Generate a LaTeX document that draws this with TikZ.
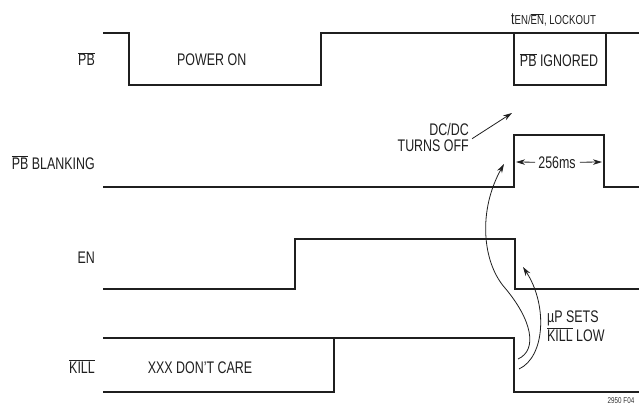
\documentclass[tikz,border=0pt]{standalone}
\usepackage{fontspec}
\setmainfont{Liberation Sans}[FakeStretch=0.74]
\usetikzlibrary{arrows.meta}
\newcommand{\ovl}[1]{$\overline{\mbox{#1}}$}
\tikzset{
  wave/.style={line width=1.6pt, line join=miter, black!88},
  lbl/.style={font=\fontsize{16.8}{15}\selectfont, inner sep=0pt, black!88},
  twoline/.style={lbl, font=\fontsize{16.8}{16.5}\selectfont},
  pointer/.style={line width=0.8pt, black!88, -{Stealth[length=9pt,width=5.5pt]}},
}

\begin{document}
\begin{tikzpicture}[x=1pt, y=-1pt]
    \useasboundingbox (0,0) rectangle (641,404);

    % signal names
    \node[lbl, anchor=base east] (pbName) at (95,66) {\ovl{PB}};
    \node[lbl, anchor=base east] (blankName) at (95,169) {\ovl{PB} BLANKING};
    \node[lbl, anchor=base east] (enName) at (95,263) {EN};
    \node[lbl, anchor=base east] (killName) at (95,373) {\ovl{KILL}};

    % waveforms
    \draw[wave] (103,33) -- (129,33) -- (129,85) -- (321,85) -- (321,33) -- (639,33);
    \draw[wave] (514,33) -- (514,85) -- (606,85) -- (606,33);
    \draw[wave] (103,187) -- (514,187) -- (514,135) -- (604,135) -- (604,187) -- (639,187);
    \draw[wave] (103,289) -- (295,289) -- (295,239) -- (515,239) -- (515,289) -- (639,289);
    \draw[wave] (103,338) -- (514,338) -- (514,392) -- (639,392);
    \draw[wave] (103,392) -- (334,392) -- (334,338);

    % texts on the waveforms
    \node[lbl, anchor=base west] (powerOn) at (177,66) {POWER ON};
    \node[lbl, anchor=base] (ignored) at (559,67) {\ovl{PB} IGNORED};
    \node[lbl, anchor=base west] (lockout) at (511,25)
        {t{\fontsize{13}{13}\selectfont EN/\ovl{EN}, LOCKOUT}};
    \node[lbl, anchor=base] (dontCare) at (200,373) {XXX DON'T CARE};
    \node[lbl, anchor=base] (ms) at (557,168) {256ms};
    \node[twoline, anchor=base east, align=right] (dcdc) at (469,152) {DC/DC\\TURNS OFF};
    \node[twoline, anchor=base west, align=left] (upSets) at (547,341) {µP SETS\\\ovl{KILL} LOW};
    \node[font=\fontsize{8.5}{9}\selectfont, inner sep=0pt, anchor=north, black!80] (figNo) at (621,397) {2950 F04};

    % arrow ends
    \coordinate (bUp) at (516,162);
    \coordinate (bDn) at (602,162);
    \coordinate (dcTip) at (512,113);
    \coordinate (kA) at (518,359);
    \coordinate (kB) at (519,369);
    \coordinate (blankTip) at (504,164);
    \coordinate (enTip) at (523,267);

    \draw[pointer] ([xshift=-3pt]ms.west) -- (bUp);
    \draw[pointer] ([xshift=4pt]ms.east) -- (bDn);
    \draw[pointer] ([xshift=3pt,yshift=-1pt]dcdc.east) -- (dcTip);
    \draw[pointer] (kA) .. controls (538,350) and (532,320) .. (505,288)
        .. controls (482,262) and (478,210) .. (blankTip);
    \draw[pointer] (kB) .. controls (545,357) and (548,305) .. (enTip);

\end{tikzpicture}
\end{document}
